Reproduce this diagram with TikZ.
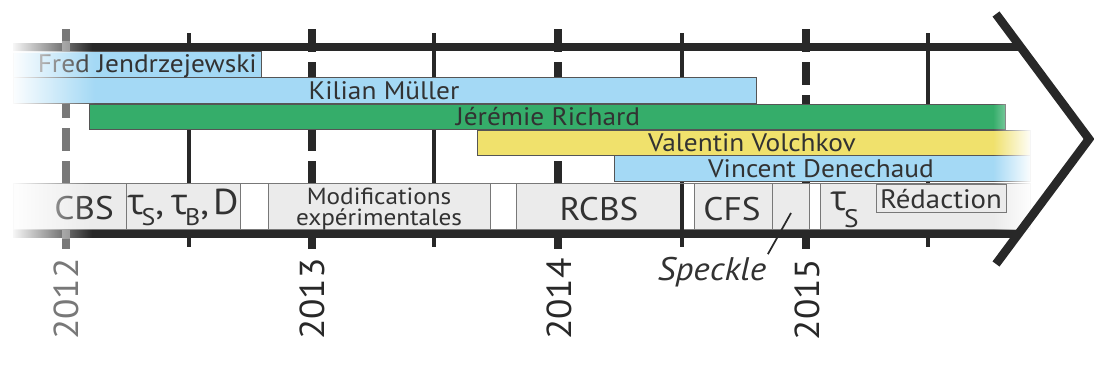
\documentclass[tikz,border=0pt]{standalone}
\usepackage{fontspec}
\setmainfont{PT Sans}[FakeStretch=1.08]
\newfontfamily\gr{Open Sans}
\usetikzlibrary{fadings}
\definecolor{lc}{RGB}{40,40,40}
\definecolor{tc}{RGB}{50,50,50}
\definecolor{bl}{RGB}{164,217,245}
\definecolor{gn}{RGB}{53,173,106}
\definecolor{yl}{RGB}{240,225,108}
\definecolor{bx}{RGB}{235,235,235}
\definecolor{bd}{RGB}{85,85,85}
\definecolor{gy}{RGB}{120,120,120}
\begin{document}
\begin{tikzpicture}[x=0.75pt,y=-0.75pt,
  bar/.style={draw=bd, line width=0.75pt},
  bbox/.style={draw=gy, line width=0.75pt, fill=bx},
  wbox/.style={draw=gy, line width=0.75pt, fill=white},
  pname/.style={inner sep=0pt, text=tc, font=\fontsize{19}{19}\selectfont, anchor=base},
  big/.style={inner sep=0pt, text=tc, font=\fontsize{24.5}{24.5}\selectfont, anchor=base},
  mid/.style={inner sep=0pt, text=tc, font=\fontsize{17.5}{17.5}\selectfont, anchor=base},
  year/.style={inner sep=0pt, rotate=90, font=\fontsize{26}{26}\selectfont, anchor=center},
  htick/.style={draw=lc, line width=2.5pt},
  ytick/.style={line width=5.6pt, dash pattern=on 17.25pt off 7.5pt},
  axisline/.style={draw=lc, line width=6pt}
]
\useasboundingbox (0,0) rectangle (1094,371);
% half-year ticks
\foreach \x in {189,434,682,928} \draw[htick] (\x,33) -- (\x,247);
% main lines
\draw[axisline] (13,46.7) -- (1021,46.7);
\draw[axisline] (13,234) -- (1021,234);
% year ticks
\draw[ytick, draw=gy] (66,29) -- (66,249);
\foreach \x in {312,558,806} \draw[ytick, draw=lc] (\x,29) -- (\x,249);
% bars
\path[bar, fill=bl] (13,51.7) rectangle (261,77.3);
\path[bar, fill=bl] (13,77.3) rectangle (756,103.3);
\path[bar, fill=gn] (89,104) rectangle (1005,129.3);
\path[bar, fill=yl] (477,130) rectangle (1030,155.5);
\path[bar, fill=bl] (614,155.5) rectangle (1030,181.7);
\node[pname, anchor=base east] (fred) at (257,72.3) {Fred Jendrzejewski};
\node[pname] (kilian) at (384,99) {Kilian Müller};
\node[pname] (jeremie) at (548,125.7) {Jérémie Richard};
\node[pname] (valentin) at (752,151.7) {Valentin Volchkov};
\node[pname] (vincent) at (821,177.7) {Vincent Denechaud};
% bottom boxes
\path[bbox] (13,183.5) rectangle (126,229.5);
\path[bbox] (126,183.5) rectangle (240,229.5);
\path[wbox] (240,183.5) rectangle (268,229.5);
\path[bbox] (268,183.5) rectangle (490,229.5);
\path[wbox] (490,183.5) rectangle (516,229.5);
\path[bbox] (516,183.5) rectangle (682,229.5);
\path[wbox] (682,183.5) rectangle (694,229.5);
\path[bbox] (694,183.5) rectangle (772,229.5);
\path[bbox] (772,183.5) rectangle (809,229.5);
\path[wbox] (809,183.5) rectangle (820,229.5);
\path[bbox] (820,183.5) rectangle (1030,229.5);
\draw[htick] (682,183.5) -- (682,229.5);
\node[big] (cbs) at (84,219.3) {CBS};
\node[inner sep=0pt, text=tc, anchor=base west, font=\fontsize{27}{27}\selectfont] (taus) at (127,214)
  {{\gr τ}\kern-2pt\raisebox{-8.25pt}{\fontsize{18}{18}\selectfont S},\kern5pt{\gr τ}\kern-2pt\raisebox{-8.25pt}{\fontsize{18}{18}\selectfont B},\kern3pt D};
\node[mid] (modif1) at (379,204) {Modifications};
\node[mid] (modif2) at (379,225.5) {expérimentales};
\node[big] (rcbs) at (599,220) {RCBS};
\node[big] (cfs) at (732,220) {CFS};
\node[inner sep=0pt, text=tc, anchor=base west, font=\fontsize{26}{26}\selectfont] (taus2) at (830,210)
  {{\gr τ}\kern-2pt\raisebox{-12.75pt}{\fontsize{19}{19}\selectfont S}};
% fades
\fill[white, path fading=east] (10,41) rectangle (92,52.5);
\fill[white, path fading=east] (10,51) rectangle (95,103.8);
\fill[white, path fading=east] (10,183) rectangle (92,239);
\fill[white, path fading=west] (993,103.5) rectangle (1032,230);
% redaction
\path[bbox] (876,184) rectangle (1006,212);
\node[inner sep=0pt, text=tc, anchor=base, font=\fontsize{20}{20}\selectfont] (redac) at (941,208) {Rédaction};
% arrow head
\draw[draw=lc, line width=6.5pt] (996,14) -- (1089,139) -- (996,264);
% speckle
\node[inner sep=0pt, text=tc, anchor=base, font=\itshape\fontsize{24.5}{24.5}\selectfont] (sp) at (712,280) {Speckle};
\coordinate (spk) at (791,213);
\draw[draw=lc, line width=1.3pt, shorten >=2pt] (spk) -- (sp.north east);
% years
\node[year, text=gy] (y2012) at (66,299) {2012};
\node[year, text=lc] (y2013) at (312,299) {2013};
\node[year, text=lc] (y2014) at (559,299) {2014};
\node[year, text=lc] (y2015) at (807,299.5) {2015};
\end{tikzpicture}
\end{document}
